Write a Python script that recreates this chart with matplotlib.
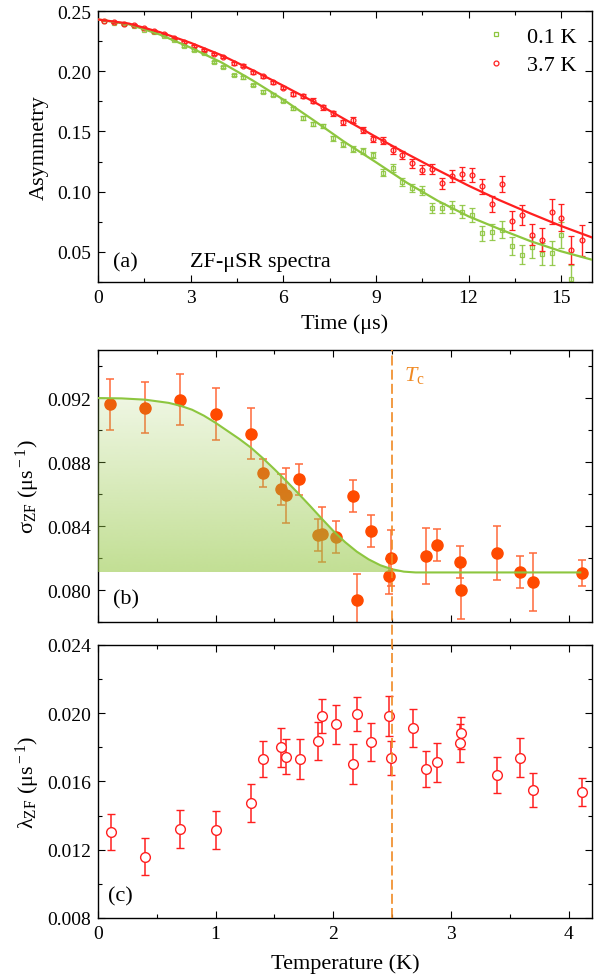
import matplotlib
matplotlib.use('Agg')
import matplotlib.pyplot as plt
import numpy as np
from matplotlib.ticker import MultipleLocator, FormatStrFormatter
from matplotlib.lines import Line2D
from matplotlib import transforms

matplotlib.rcParams.update({
    'font.family': 'Liberation Serif',
    'mathtext.fontset': 'custom',
    'mathtext.rm': 'Liberation Serif',
    'mathtext.it': 'Liberation Serif:italic',
    'font.size': 14,
})

"""
Datos panel (a): espectros ZF
"""
time_a = [0.20, 0.52, 0.84, 1.17, 1.49, 1.81, 2.13, 2.45, 2.78, 3.10,
          3.42, 3.74, 4.06, 4.39, 4.71, 5.03, 5.35, 5.67, 6.00, 6.32,
          6.64, 6.96, 7.28, 7.61, 7.93, 8.25, 8.57, 8.89, 9.22, 9.54,
          9.86, 10.18, 10.50, 10.83, 11.15, 11.47, 11.79, 12.11, 12.44, 12.76,
          13.08, 13.40, 13.72, 14.05, 14.37, 14.69, 15.01, 15.33, 15.66]

asy_37K = [0.2420, 0.2406, 0.2395, 0.2384, 0.2356, 0.2334, 0.2312, 0.2273, 0.2245, 0.2212,
           0.2176, 0.2143, 0.2118, 0.2066, 0.2046, 0.1992, 0.1958, 0.1908, 0.1864, 0.1811,
           0.1797, 0.1756, 0.1701, 0.1651, 0.1575, 0.1596, 0.1515, 0.1438, 0.1424, 0.1349,
           0.1305, 0.1236, 0.1183, 0.1189, 0.1070, 0.1128, 0.1150, 0.1141, 0.1045, 0.0898,
           0.1064, 0.0760, 0.0807, 0.0644, 0.0602, 0.0834, 0.0785, 0.0514, 0.0597]

asy_01K = [0.2420, 0.2404, 0.2390, 0.2378, 0.2345, 0.2323, 0.2295, 0.2262, 0.2212, 0.2179,
           0.2149, 0.2080, 0.2033, 0.1969, 0.1950, 0.1886, 0.1830, 0.1805, 0.1756, 0.1692,
           0.1615, 0.1560, 0.1546, 0.1444, 0.1392, 0.1355, 0.1336, 0.1305, 0.1156, 0.1195,
           0.1078, 0.1031, 0.1009, 0.0863, 0.0865, 0.0871, 0.0834, 0.0807, 0.0655, 0.0663,
           0.0685, 0.0552, 0.0478, 0.0539, 0.0483, 0.0492, 0.0641, 0.0276]

err_a = [0.0004, 0.0004, 0.0004, 0.0005, 0.0005, 0.0005, 0.0006, 0.0006, 0.0007, 0.0007,
         0.0008, 0.0008, 0.0009, 0.0010, 0.0011, 0.0011, 0.0012, 0.0013, 0.0014, 0.0015,
         0.0016, 0.0018, 0.0019, 0.0020, 0.0022, 0.0023, 0.0025, 0.0027, 0.0029, 0.0032,
         0.0034, 0.0036, 0.0039, 0.0042, 0.0045, 0.0049, 0.0053, 0.0057, 0.0061, 0.0066,
         0.0070, 0.0076, 0.0082, 0.0088, 0.0095, 0.0102, 0.0110, 0.0118, 0.0127]

# curvas de ajuste
t_fit = [0, 1, 2, 3, 4, 5, 6, 7, 8, 9, 10, 11, 12, 13, 14, 15, 16]
fit_37K = [0.2430, 0.2396, 0.2325, 0.2236, 0.2133, 0.2010, 0.1880, 0.1745, 0.1600,
           0.1455, 0.1315, 0.1180, 0.1050, 0.0930, 0.0820, 0.0715, 0.0620]
fit_01K = [0.2430, 0.2390, 0.2305, 0.2196, 0.2073, 0.1925, 0.1765, 0.1590, 0.1410,
           0.1245, 0.1075, 0.0925, 0.0795, 0.0690, 0.0590, 0.0505, 0.0435]

"""
Datos panel (b) y (c)
"""
temp_b = [0.10, 0.40, 0.70, 1.00, 1.30, 1.40, 1.555, 1.60, 1.71, 1.866, 1.90, 2.02,
          2.17, 2.20, 2.325, 2.495, 2.475, 2.79, 2.88, 3.08, 3.09, 3.39, 3.59, 3.70, 4.115]
sigma_zf = [0.0916, 0.09141, 0.0919, 0.0910, 0.08977, 0.08733, 0.08629, 0.08591, 0.08691,
            0.08346, 0.08348, 0.08331, 0.08588, 0.07938, 0.08366, 0.0820, 0.08085, 0.08214,
            0.08279, 0.08177, 0.08002, 0.08233, 0.08112, 0.0805, 0.08106]
sigma_err = [0.00157, 0.0016, 0.0016, 0.0016, 0.0016, 0.00088, 0.00098, 0.0017, 0.00098,
             0.0010, 0.0017, 0.0010, 0.00098, 0.0016, 0.0010, 0.00175, 0.0011, 0.00175,
             0.0010, 0.0010, 0.0018, 0.0017, 0.0010, 0.0018, 0.0008]

T_fit = [0.0, 0.2, 0.4, 0.6, 0.7, 0.8, 0.9, 1.0, 1.1, 1.2, 1.3, 1.4, 1.5, 1.6, 1.7,
         1.8, 1.9, 2.0, 2.1, 2.2, 2.3, 2.4, 2.5, 2.6, 2.7, 4.1]
sigma_fit = [0.09200, 0.09198, 0.09190, 0.09170, 0.09152, 0.09127, 0.09090, 0.09045,
             0.08995, 0.08945, 0.08890, 0.08825, 0.08755, 0.08682, 0.08606, 0.08528,
             0.08448, 0.08370, 0.08300, 0.08240, 0.08192, 0.08155, 0.08130, 0.08115,
             0.08110, 0.08110]
sigma_base = 0.0811

temp_c = [0.108, 0.40, 0.70, 1.00, 1.30, 1.40, 1.555, 1.60, 1.715, 1.866, 1.90, 2.02,
          2.17, 2.20, 2.325, 2.475, 2.495, 2.68, 2.79, 2.88, 3.08, 3.09, 3.39, 3.59, 3.70, 4.115]
lambda_zf = [0.01302, 0.01159, 0.0132, 0.01316, 0.01474, 0.01732, 0.01800, 0.01745, 0.01732,
             0.01836, 0.01986, 0.01935, 0.01703, 0.01996, 0.0183, 0.01984, 0.01738, 0.01913,
             0.01673, 0.01712, 0.01826, 0.01884, 0.01638, 0.01738, 0.0155, 0.0154]
lambda_err = [0.00105, 0.00107, 0.0011, 0.0011, 0.0011, 0.00104, 0.00115, 0.00104, 0.00117,
              0.00113, 0.0010, 0.00113, 0.00115, 0.00098, 0.00113, 0.00115, 0.0010, 0.00113,
              0.00103, 0.00113, 0.0011, 0.00092, 0.00105, 0.00114, 0.00102, 0.00082]

Tc = 2.5

green = '#8DC63F'
red = '#FF1F1F'
orange_red = '#FF4A00'
tc_color = '#F08A24'


def style_axis(ax):
    ax.tick_params(which='both', direction='in', top=True, right=True, width=0.8)
    ax.tick_params(which='major', length=5, labelsize=14, pad=5)
    ax.tick_params(which='minor', length=3)
    for s in ax.spines.values():
        s.set_linewidth(1.0)


"""
Graficado
"""
fig = plt.figure(figsize=(6.01, 9.79), dpi=100)
ax_a = fig.add_axes([0.1631, 0.7109, 0.822, 0.2768])
ax_b = fig.add_axes([0.1631, 0.3636, 0.822, 0.2778])
ax_c = fig.add_axes([0.1631, 0.0613, 0.822, 0.2789])

# (a)
ax_a.errorbar(time_a[:len(asy_01K)], asy_01K, yerr=err_a[:len(asy_01K)], fmt='s', ms=3.5,
              mfc='none', mec=green, mew=0.9, ecolor=green, elinewidth=1.0, capsize=2.5,
              capthick=1.0, alpha=0.9, zorder=2)
ax_a.errorbar(time_a, asy_37K, yerr=err_a, fmt='o', ms=3.5, mfc='none', mec=red, mew=0.9,
              ecolor=red, elinewidth=1.0, capsize=2.5, capthick=1.0, zorder=3)
ax_a.plot(t_fit, fit_01K, color=green, lw=1.6, zorder=4)
ax_a.plot(t_fit, fit_37K, color=red, lw=1.6, zorder=5)

handles = [Line2D([], [], ls='none', marker='s', ms=3.5, mfc='none', mec=green, mew=0.9),
           Line2D([], [], ls='none', marker='o', ms=3.5, mfc='none', mec=red, mew=0.9)]
ax_a.legend(handles, ['0.1 K', '3.7 K'], loc='upper right', frameon=False, fontsize=16,
            handlelength=1.0, handletextpad=0.9, labelspacing=0.35,
            bbox_to_anchor=(1.0, 1.0), borderaxespad=0.3)

ax_a.set_xlim(0, 16)
ax_a.set_ylim(0.025, 0.25)
ax_a.xaxis.set_major_locator(MultipleLocator(3))
ax_a.xaxis.set_minor_locator(MultipleLocator(1.5))
ax_a.yaxis.set_major_locator(MultipleLocator(0.05))
ax_a.yaxis.set_minor_locator(MultipleLocator(0.025))
ax_a.yaxis.set_major_formatter(FormatStrFormatter('%.2f'))
style_axis(ax_a)
ax_a.set_xlabel('Time (μs)', fontsize=16, labelpad=5)
ax_a.set_ylabel('Asymmetry', fontsize=16, labelpad=6)
ax_a.text(0.03, 0.075, '(a)', transform=ax_a.transAxes, fontsize=16, va='center')
ax_a.text(0.186, 0.075, 'ZF-μSR spectra', transform=ax_a.transAxes, fontsize=16, va='center')

# (b)
ax_b.errorbar(temp_b, sigma_zf, yerr=sigma_err, fmt='o', ms=8, color=orange_red,
              mec=orange_red, ecolor='#FF6A3A', elinewidth=1.1, capsize=3, capthick=1.1,
              zorder=2)
ax_b.plot(T_fit, sigma_fit, color=green, lw=1.5, zorder=4)
poly = ax_b.fill_between(T_fit, sigma_fit, sigma_base, facecolor='none', edgecolor='none')
grad = np.zeros((256, 1, 4))
grad[:, 0, 0] = 150 / 255
grad[:, 0, 1] = 200 / 255
grad[:, 0, 2] = 70 / 255
grad[:, 0, 3] = np.linspace(0.15, 0.58, 256)
img = ax_b.imshow(grad, extent=[0, 4.2, sigma_base, 0.0921], aspect='auto',
                  origin='upper', zorder=3, interpolation='bilinear')
img.set_clip_path(poly.get_paths()[0], transform=ax_b.transData)

ax_b.set_xlim(0, 4.2)
ax_b.set_ylim(0.078, 0.095)
ax_b.xaxis.set_major_locator(MultipleLocator(1))
ax_b.xaxis.set_minor_locator(MultipleLocator(0.5))
ax_b.yaxis.set_major_locator(MultipleLocator(0.004))
ax_b.yaxis.set_minor_locator(MultipleLocator(0.002))
ax_b.yaxis.set_major_formatter(FormatStrFormatter('%.3f'))
style_axis(ax_b)
ax_b.tick_params(labelbottom=False)
ax_b.set_ylabel(r'σ$_{\rm ZF}$ (μs$^{\rm -1}$)', fontsize=16, labelpad=4)
ax_b.text(0.03, 0.085, '(b)', transform=ax_b.transAxes, fontsize=16, va='center')
ax_b.text(2.6, 0.0935, r'$T_{\rm c}$', color=tc_color, fontsize=16, va='center')

# (c)
ax_c.errorbar(temp_c, lambda_zf, yerr=lambda_err, fmt='o', ms=7, mfc='white', mec=red,
              mew=1.0, ecolor=red, elinewidth=1.1, capsize=3, capthick=1.1, zorder=3)
ax_c.set_xlim(0, 4.2)
ax_c.set_ylim(0.008, 0.024)
ax_c.xaxis.set_major_locator(MultipleLocator(1))
ax_c.xaxis.set_minor_locator(MultipleLocator(0.5))
ax_c.yaxis.set_major_locator(MultipleLocator(0.004))
ax_c.yaxis.set_minor_locator(MultipleLocator(0.002))
ax_c.yaxis.set_major_formatter(FormatStrFormatter('%.3f'))
style_axis(ax_c)
ax_c.set_xlabel('Temperature (K)', fontsize=16, labelpad=8)
ax_c.set_ylabel(r'λ$_{\rm ZF}$ (μs$^{\rm -1}$)', fontsize=16, labelpad=4)
ax_c.text(0.02, 0.082, '(c)', transform=ax_c.transAxes, fontsize=16, va='center')

# linea de Tc a traves de (b) y (c)
trans = transforms.blended_transform_factory(ax_c.transData, fig.transFigure)
fig.add_artist(Line2D([Tc, Tc], [0.0613, 0.3636 + 0.2778], transform=trans,
                      color=tc_color, lw=1.2, ls=(0, (6, 2.5)), zorder=10))

fig.savefig('out.png', dpi=100)
